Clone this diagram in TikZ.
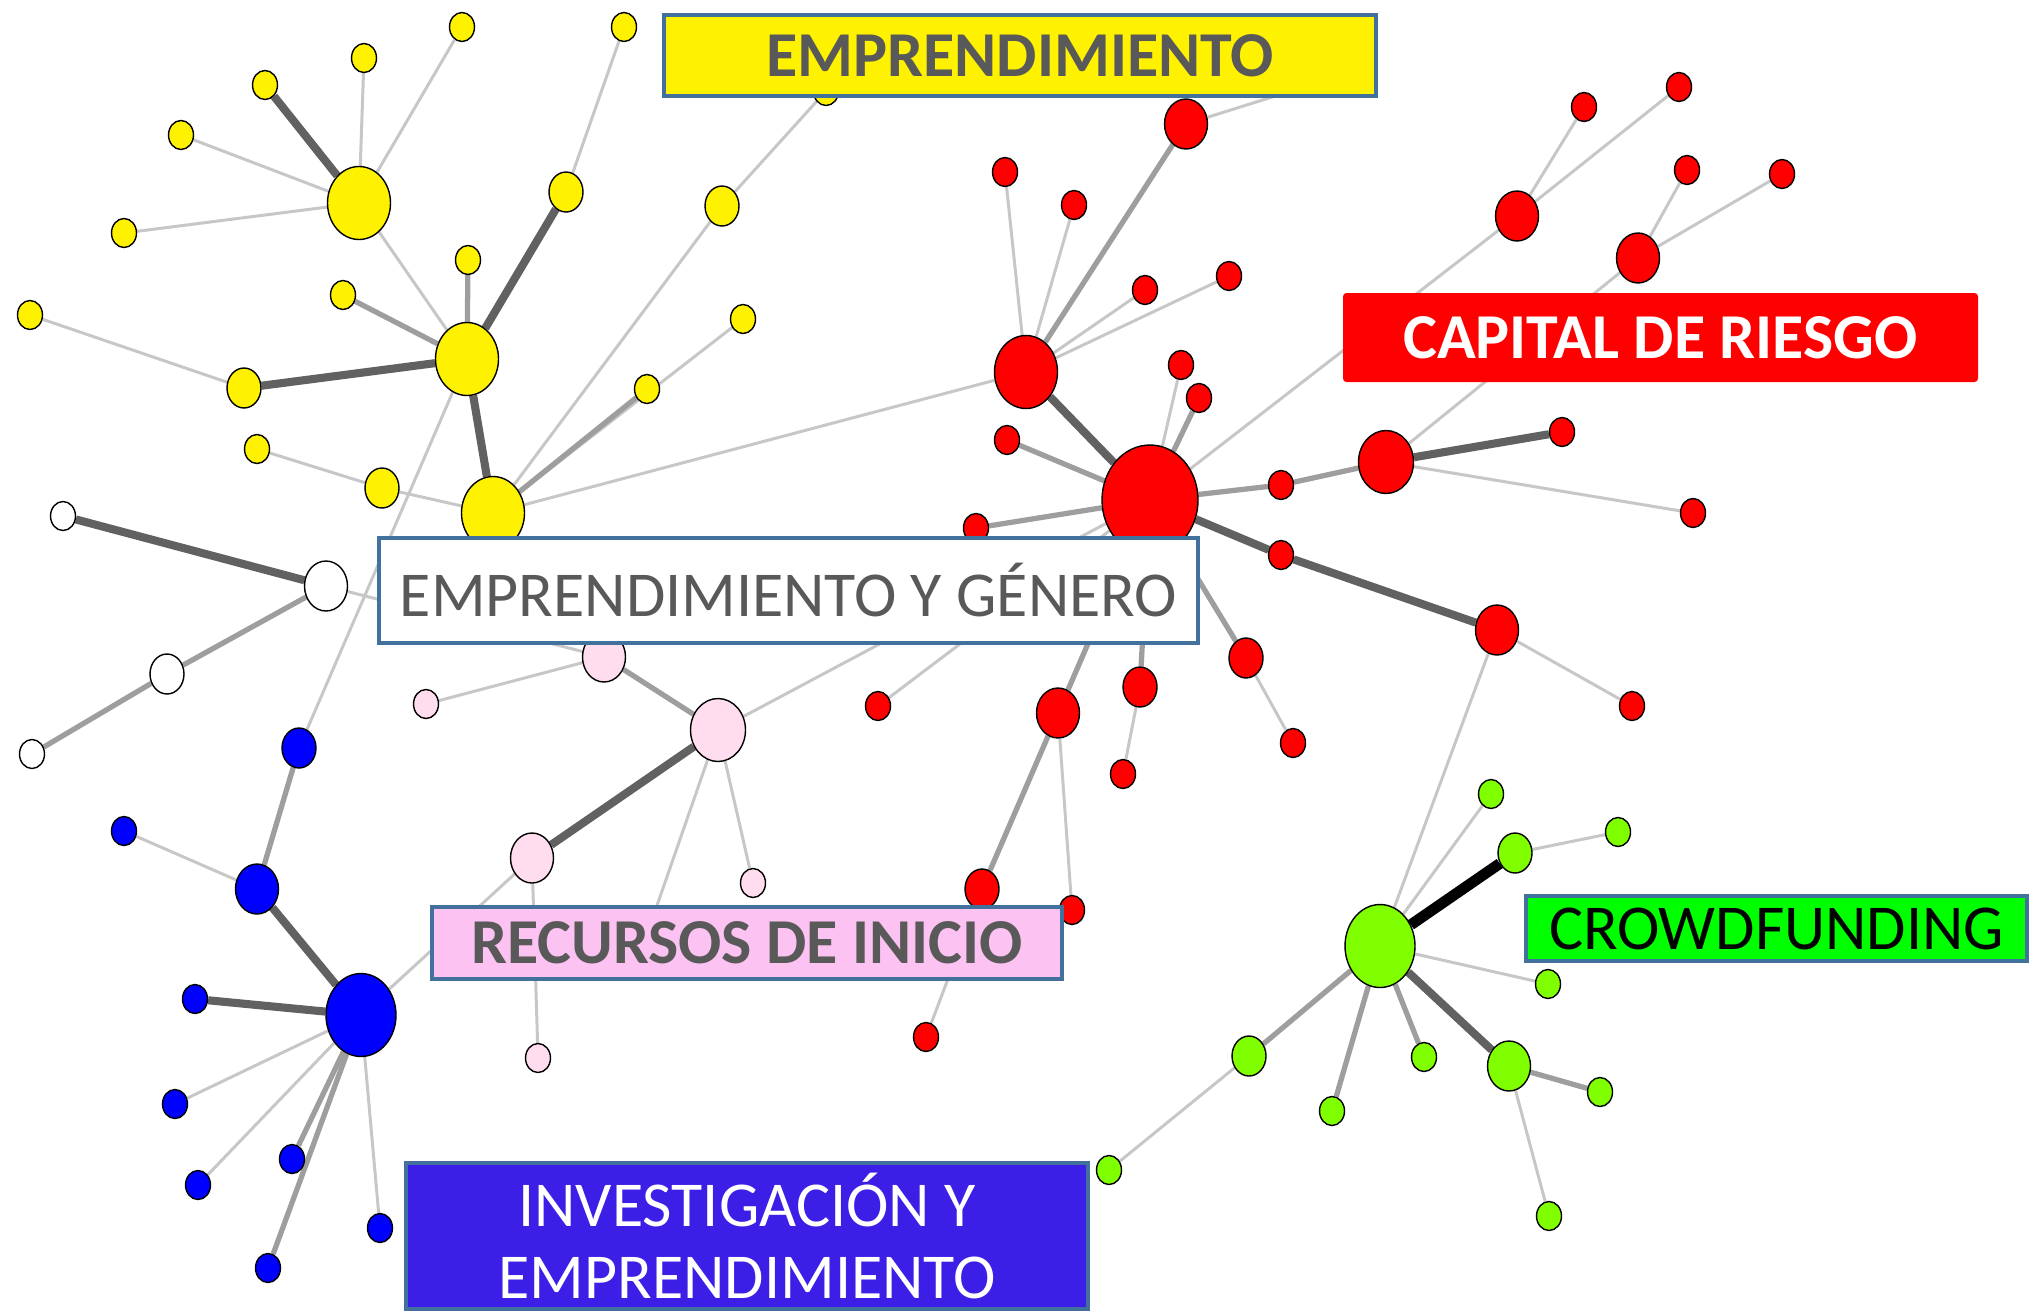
\documentclass[tikz,border=0pt]{standalone}
\usepackage{fontspec}
\setmainfont{Carlito}
\usetikzlibrary{shapes.geometric}
\pgfdeclarelayer{bg}
\pgfsetlayers{bg,main}
\definecolor{rim}{HTML}{41719C}
\definecolor{txtgray}{HTML}{595959}
\definecolor{ndpink}{HTML}{FFDDEE}
\definecolor{ndlime}{HTML}{80FF00}
\definecolor{boxpink}{HTML}{FCC3F2}
\definecolor{boxblue}{HTML}{3B1FE6}
\definecolor{boxgreen}{HTML}{00FF00}

\tikzset{
  nd/.style={ellipse,draw=black,line width=0.4pt,inner sep=0pt},
  s1/.style={nd,minimum width=2.5mm,minimum height=2.9mm},
  s2/.style={nd,minimum width=3.4mm,minimum height=4mm},
  s3/.style={nd,minimum width=4.3mm,minimum height=5mm},
  s4/.style={nd,minimum width=5.5mm,minimum height=6.3mm},
  s5/.style={nd,minimum width=6.3mm,minimum height=7.3mm},
  s6/.style={nd,minimum width=7mm,minimum height=8.3mm},
  s7/.style={nd,minimum width=9.6mm,minimum height=11mm},
  eLight/.style={black!22,line width=0.85pt},
  eMid/.style={black!38,line width=1.5pt},
  eDark/.style={black!62,line width=2.3pt},
  eBlack/.style={black,line width=3.1pt},
  lbl/.style={draw=rim,line width=1pt,inner sep=0pt,font=\fontsize{18.2}{20.6}\selectfont},
  lblb/.style={lbl,font=\fontsize{18.2}{20.6}\selectfont\bfseries}
}

\begin{document}
\begin{tikzpicture}[x=0.1mm,y=-0.1mm]
  \useasboundingbox (0,0) rectangle (2043,1312);

  % emprendimiento
  \begin{scope}[every node/.append style={fill=yellow}]
  \node[s1] (y1) at (462,27) {};
  \node[s1] (y2) at (624,27) {};
  \node[s1] (y3) at (364,58) {};
  \node[s1] (y4) at (265,85) {};
  \node[s1] (y5) at (181,135) {};
  \node[s1] (y6) at (124,233) {};
  \node[s5] (yA) at (359,203) {};
  \node[s2] (y7) at (566,192) {};
  \node[s2] (y8) at (722,206) {};
  \node[s1] (y9) at (826,91) {};
  \node[s1] (y10) at (468,260) {};
  \node[s1] (y11) at (343,295) {};
  \node[s1] (y12) at (30,315) {};
  \node[s1] (y13) at (743,319) {};
  \node[s5] (yB) at (467,359) {};
  \node[s2] (y14) at (244,388) {};
  \node[s1] (y15) at (647,389) {};
  \node[s1] (y16) at (257,449) {};
  \node[s2] (y17) at (382,488) {};
  \node[s5] (yC) at (493,513) {};
  \end{scope}

  % genero
  \begin{scope}[every node/.append style={fill=white}]
  \node[s1] (w1) at (63,516) {};
  \node[s3] (w2) at (326,586) {};
  \node[s2] (w3) at (167,674) {};
  \node[s1] (w4) at (32,754) {};
  \end{scope}

  % recursos
  \begin{scope}[every node/.append style={fill=ndpink}]
  \node[s3] (p1) at (604,657) {};
  \node[s1] (p2) at (426,704) {};
  \node[s4] (p3) at (718,730) {};
  \node[s3] (p4) at (532,858) {};
  \node[s1] (p5) at (753,883) {};
  \node[s1] (p6) at (538,1058) {};
  \end{scope}

  % investigacion
  \begin{scope}[every node/.append style={fill=blue}]
  \node[s2] (b1) at (299,748) {};
  \node[s1] (b2) at (124,831) {};
  \node[s3] (b3) at (257,889) {};
  \node[s6] (bB) at (361,1015) {};
  \node[s1] (b4) at (195,999) {};
  \node[s1] (b5) at (175,1104) {};
  \node[s1] (b6) at (292,1159) {};
  \node[s1] (b7) at (198,1185) {};
  \node[s1] (b8) at (380,1228) {};
  \node[s1] (b9) at (268,1268) {};
  \end{scope}

  % capital de riesgo
  \begin{scope}[every node/.append style={fill=red}]
  \node[s3] (r1) at (1186,124) {};
  \node[s1] (r2) at (1005,172) {};
  \node[s1] (r3) at (1074,205) {};
  \node[s1] (r4) at (1145,290) {};
  \node[s1] (r5) at (1229,276) {};
  \node[s5] (rA) at (1026,372) {};
  \node[s1] (r6) at (1181,365) {};
  \node[s1] (r7) at (1199,398) {};
  \node[s1] (r8) at (1007,440) {};
  \node[s7] (rR) at (1150,500) {};
  \node[s1] (r9) at (976,528) {};
  \node[s1] (r10) at (1281,485) {};
  \node[s1] (r11) at (1281,555) {};
  \node[s4] (rB) at (1386,462) {};
  \node[s1] (r12) at (1562,432) {};
  \node[s1] (r13) at (1693,513) {};
  \node[s3] (rC) at (1497,630) {};
  \node[s1] (r14) at (1632,706) {};
  \node[s2] (r15) at (1246,658) {};
  \node[s1] (r16) at (1293,743) {};
  \node[s2] (r17) at (1140,687) {};
  \node[s1] (r18) at (1123,774) {};
  \node[s3] (r19) at (1058,713) {};
  \node[s1] (r20) at (878,706) {};
  \node[s2] (r21) at (982,889) {};
  \node[s1] (r22) at (1072,910) {};
  \node[s1] (r23) at (926,1037) {};
  \node[s3] (rD) at (1517,216) {};
  \node[s1] (r24) at (1584,107) {};
  \node[s1] (r25) at (1679,87) {};
  \node[s3] (rE) at (1638,258) {};
  \node[s1] (r26) at (1687,170) {};
  \node[s1] (r27) at (1782,174) {};
  \end{scope}

  % crowdfunding
  \begin{scope}[every node/.append style={fill=ndlime}]
  \node[s6] (gG) at (1380,946) {};
  \node[s1] (g1) at (1491,794) {};
  \node[s2] (g2) at (1515,853) {};
  \node[s1] (g3) at (1618,832) {};
  \node[s1] (g4) at (1548,984) {};
  \node[s1] (g5) at (1424,1057) {};
  \node[s3] (g6) at (1509,1066) {};
  \node[s1] (g7) at (1600,1092) {};
  \node[s2] (g8) at (1249,1056) {};
  \node[s1] (g9) at (1332,1111) {};
  \node[s1] (g10) at (1109,1170) {};
  \node[s1] (g11) at (1549,1216) {};
  \end{scope}

  \coordinate (hidA) at (1320,82);
  \coordinate (hidB) at (645,940);

  \begin{pgfonlayer}{bg}
  \foreach \from/\to in {y3/yA,y5/yA,y6/yA,y1/yA,yA/yB,y2/y7,y12/y14,y16/y17,y17/yC,yC/y8,y8/y9,yC/y13,yB/b1,yC/rA,
      w2/p1,p2/p1,p3/p5,p3/hidB,p3/rR,p4/p6,bB/p4,b2/b3,b5/bB,b7/bB,b8/bB,
      rA/r2,rA/r3,rA/r4,rA/r5,r1/hidA,rR/r6,rR/rD,rD/r24,rD/r25,rB/rE,rE/r26,rE/r27,rB/r13,rC/r14,rC/gG,
      r15/r16,r17/r18,r19/r22,r21/r23,r20/rR,gG/g1,g2/g3,gG/g4,g6/g11,g8/g10}
    \draw[eLight] (\from) -- (\to);
  \foreach \from/\to in {y10/yB,y11/yB,yC/y15,w2/w3,w3/w4,p1/p3,b1/b3,b6/bB,b9/bB,rA/r1,rR/r7,rR/r8,rR/r9,
      rR/r10,r10/rB,rR/r15,rR/r17,rR/r19,r19/r21,gG/g5,g6/g7,gG/g8,gG/g9}
    \draw[eMid] (\from) -- (\to);
  \foreach \from/\to in {y4/yA,y7/yB,y14/yB,yB/yC,w1/w2,p3/p4,b3/bB,b4/bB,rA/rR,rR/r11,r11/rC,rB/r12,gG/g6}
    \draw[eDark] (\from) -- (\to);
  \draw[eBlack] (gG) -- (g2);
  \end{pgfonlayer}

  \node[lblb,fill=yellow,text=txtgray,minimum width=71.2mm,minimum height=8.1mm] (tEmp) at (1020,55.5) {EMPRENDIMIENTO};
  \node[lblb,draw=none,fill=red,rounded corners=1pt,text=white,minimum width=63.5mm,minimum height=8.9mm] (tCap) at (1660.5,337.5) {CAPITAL DE RIESGO};
  \node[lbl,fill=white,text=txtgray,minimum width=81.9mm,minimum height=10.5mm] (tGen) at (788.5,590.5) {EMPRENDIMIENTO Y GÉNERO};
  \node[lblb,fill=boxpink,text=txtgray,minimum width=63mm,minimum height=7.2mm] (tRec) at (747,943) {RECURSOS DE INICIO};
  \node[lbl,fill=boxblue,text=white,minimum width=68.2mm,minimum height=14.6mm,align=center] (tInv) at (747,1236) {INVESTIGACIÓN Y\\EMPRENDIMIENTO};
  \node[lbl,fill=boxgreen,text=black,minimum width=50.1mm,minimum height=6.5mm] (tCro) at (1776.5,928.5) {CROWDFUNDING};
\end{tikzpicture}
\end{document}
